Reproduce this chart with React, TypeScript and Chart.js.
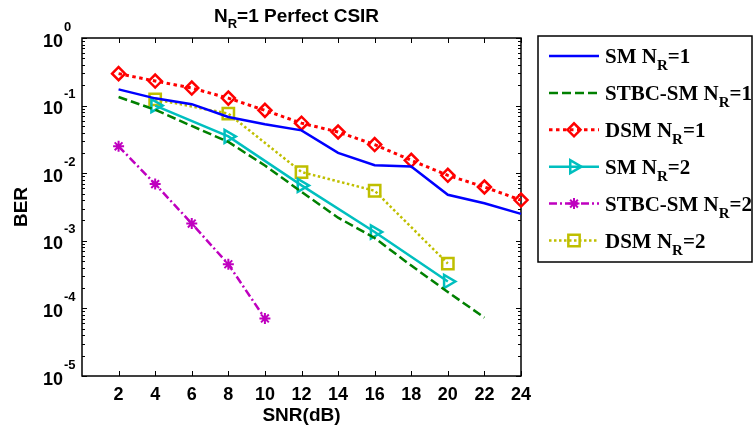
import React, { useEffect, useRef } from "react";
import { Chart, registerables } from "chart.js";
import { drawPoint } from "chart.js/helpers";

Chart.register(...registerables);

// ---------- data ----------
const chartTitle = "N_R=1 Perfect CSIR";
const xAxisTitle = "SNR(dB)";
const yAxisTitle = "BER";

const xTickValues = [2, 4, 6, 8, 10, 12, 14, 16, 18, 20, 22, 24];
const yTickExponents = [0, -1, -2, -3, -4, -5];

const snrFull = [2, 4, 6, 8, 10, 12, 14, 16, 18, 20, 22, 24];
const snrStbc1 = [2, 4, 6, 8, 10, 12, 14, 16, 18, 20, 22];
const snrSparse = [4, 8, 12, 16, 20];
const snrStbc2 = [2, 4, 6, 8, 10];

const smNr1 = [0.174, 0.128, 0.105, 0.068, 0.053, 0.043, 0.02, 0.0131, 0.0126, 0.0048, 0.0036, 0.0025];
const stbcSmNr1 = [0.134, 0.087, 0.05, 0.029, 0.013, 0.0053, 0.0022, 0.0011, 0.00043, 0.000175, 0.000073];
const dsmNr1 = [0.297, 0.231, 0.182, 0.129, 0.085, 0.055, 0.0407, 0.0265, 0.0155, 0.0093, 0.00625, 0.004];
const smNr2 = [0.1, 0.035, 0.0066, 0.00135, 0.00025];
const stbcSmNr2 = [0.025, 0.0069, 0.0018, 0.00045, 0.000071];
const dsmNr2 = [0.124, 0.076, 0.0104, 0.0055, 0.00046];

const seriesLabels = ["SM N_R=1", "STBC-SM N_R=1", "DSM N_R=1", "SM N_R=2", "STBC-SM N_R=2", "DSM N_R=2"];
const seriesColors = ["#0000FF", "#008000", "#FF0000", "#00BFBF", "#BF00BF", "#BFBF00"];

const SANS = "'Liberation Sans', Arial, sans-serif";
const SERIF = "'Liberation Serif', 'Times New Roman', serif";

function pts(xs: number[], ys: number[]) {
  return xs.map((x, i) => ({ x, y: ys[i] }));
}

// draws text with "_X" subscripts
function drawRich(
  ctx: CanvasRenderingContext2D,
  text: string,
  x: number,
  y: number,
  mainFont: string,
  subFont: string,
  subDy: number,
  measureOnly = false
): number {
  const parts: { t: string; sub: boolean }[] = [];
  let buf = "";
  for (let i = 0; i < text.length; i++) {
    if (text[i] === "_" && i + 1 < text.length) {
      if (buf) parts.push({ t: buf, sub: false });
      buf = "";
      parts.push({ t: text[i + 1], sub: true });
      i++;
    } else buf += text[i];
  }
  if (buf) parts.push({ t: buf, sub: false });
  let cx = x;
  ctx.textAlign = "left";
  ctx.textBaseline = "alphabetic";
  for (const p of parts) {
    ctx.font = p.sub ? subFont : mainFont;
    if (!measureOnly) ctx.fillText(p.t, cx, p.sub ? y + subDy : y);
    cx += ctx.measureText(p.t).width;
  }
  return cx - x;
}

const matlabPlugin = {
  id: "matlabAxes",
  beforeDatasetsDraw(chart: any) {
    const ctx: CanvasRenderingContext2D = chart.ctx;
    const { left, right, top, bottom } = chart.chartArea;
    const xs = chart.scales.x;
    const ys = chart.scales.y;
    ctx.save();
    ctx.strokeStyle = "#000";
    ctx.lineWidth = 1;
    ctx.beginPath();
    for (const v of xTickValues) {
      const px = Math.round(xs.getPixelForValue(v)) + 0.5;
      ctx.moveTo(px, bottom);
      ctx.lineTo(px, bottom - 5);
      ctx.moveTo(px, top);
      ctx.lineTo(px, top + 5);
    }
    for (const e of yTickExponents) {
      const base = Math.pow(10, e);
      const py = Math.round(ys.getPixelForValue(base)) + 0.5;
      ctx.moveTo(left, py);
      ctx.lineTo(left + 5, py);
      ctx.moveTo(right, py);
      ctx.lineTo(right - 5, py);
      if (e > -5) {
        for (let m = 2; m <= 9; m++) {
          const my = Math.round(ys.getPixelForValue(base * m * 0.1)) + 0.5;
          ctx.moveTo(left, my);
          ctx.lineTo(left + 3, my);
          ctx.moveTo(right, my);
          ctx.lineTo(right - 3, my);
        }
      }
    }
    ctx.stroke();
    ctx.lineWidth = 1.5;
    ctx.strokeRect(left, top, right - left, bottom - top);
    ctx.restore();
  },
  afterDraw(chart: any) {
    const ctx: CanvasRenderingContext2D = chart.ctx;
    const { left, right, top, bottom } = chart.chartArea;
    const xs = chart.scales.x;
    const ys = chart.scales.y;
    ctx.save();
    ctx.fillStyle = "#000";
    ctx.font = `bold 18px ${SANS}`;
    ctx.textAlign = "center";
    ctx.textBaseline = "alphabetic";
    for (const v of xTickValues) {
      ctx.fillText(String(v), xs.getPixelForValue(v), bottom + 24);
    }
    for (const e of yTickExponents) {
      const py = ys.getPixelForValue(Math.pow(10, e));
      ctx.font = `bold 18px ${SANS}`;
      ctx.textAlign = "right";
      ctx.fillText("10", left - 19, py + 8.5);
      ctx.font = `bold 13px ${SANS}`;
      ctx.textAlign = "left";
      ctx.fillText(e === 0 ? "0" : "-" + String(-e), left - 18, py - 7.5);
    }
    ctx.font = `bold 19px ${SANS}`;
    ctx.textAlign = "center";
    ctx.fillText(xAxisTitle, (left + right) / 2, bottom + 45);
    ctx.save();
    ctx.translate(27, (top + bottom) / 2);
    ctx.rotate(-Math.PI / 2);
    ctx.fillText(yAxisTitle, 0, 0);
    ctx.restore();
    const tf = `bold 19px ${SANS}`;
    const tsf = `bold 13px ${SANS}`;
    const tw = drawRich(ctx, chartTitle, 0, 0, tf, tsf, 6.6, true);
    drawRich(ctx, chartTitle, (left + right) / 2 - tw / 2 - 5, 21.7, tf, tsf, 6.6);

    // legend
    const lx0 = 538, ly0 = 36, lx1 = 752, ly1 = 262;
    ctx.fillStyle = "#fff";
    ctx.fillRect(lx0, ly0, lx1 - lx0, ly1 - ly0);
    ctx.strokeStyle = "#000";
    ctx.lineWidth = 1.5;
    ctx.strokeRect(lx0, ly0, lx1 - lx0, ly1 - ly0);
    chart.data.datasets.forEach((ds: any, i: number) => {
      const cy = 56 + i * 36.9;
      ctx.save();
      ctx.strokeStyle = ds.borderColor;
      ctx.lineWidth = ds.borderWidth;
      ctx.setLineDash(ds.borderDash || []);
      ctx.beginPath();
      ctx.moveTo(549, cy);
      ctx.lineTo(599, cy);
      ctx.stroke();
      ctx.setLineDash([]);
      if (ds.pointRadius > 0) {
        ctx.fillStyle = "rgba(0,0,0,0)";
        ctx.strokeStyle = ds.pointBorderColor;
        ctx.lineWidth = ds.pointBorderWidth;
        drawPoint(ctx, {
          pointStyle: ds.pointStyle,
          radius: ds.pointRadius,
          rotation: ds.pointRotation || 0,
          borderWidth: ds.pointBorderWidth,
        } as any, 574, cy);
      }
      ctx.restore();
      ctx.fillStyle = "#000";
      drawRich(ctx, ds.label, 605, cy + 7.3, `bold 21px ${SERIF}`, `bold 15px ${SERIF}`, 6.7);
    });
    ctx.restore();
  },
};

function makeDataset(i: number, data: any[], dash: number[], width: number, style: any, radius: number, rot = 0, pbw = 2.5) {
  return {
    label: seriesLabels[i],
    data,
    borderColor: seriesColors[i],
    backgroundColor: seriesColors[i],
    borderWidth: width,
    borderDash: dash,
    pointStyle: style,
    pointRadius: radius,
    pointRotation: rot,
    pointBorderColor: seriesColors[i],
    pointBackgroundColor: "rgba(0,0,0,0)",
    pointBorderWidth: pbw,
    pointHoverRadius: radius,
    tension: 0,
    fill: false,
    clip: false as any,
  };
}

export default function App() {
  const ref = useRef<HTMLCanvasElement | null>(null);
  useEffect(() => {
    document.body.style.margin = "0";
    if (!ref.current) return;
    const chart = new Chart(ref.current, {
      type: "line",
      data: {
        datasets: [
          makeDataset(0, pts(snrFull, smNr1), [], 2.5, false, 0),
          makeDataset(1, pts(snrStbc1, stbcSmNr1), [9, 4], 2.5, false, 0),
          makeDataset(2, pts(snrFull, dsmNr1), [3.5, 3.5], 3, "rectRot", 6.5, 0, 2.5),
          makeDataset(3, pts(snrSparse, smNr2), [], 2.5, "triangle", 7.5, 90, 2.5),
          makeDataset(4, pts(snrStbc2, stbcSmNr2), [8, 3, 2, 3], 2.5, "star", 5.5, 0, 2),
          makeDataset(5, pts(snrSparse, dsmNr2), [2.5, 2.5], 2.5, "rect", 8, 0, 2.5),
        ] as any,
      },
      options: {
        responsive: false,
        animation: false,
        devicePixelRatio: 1,
        layout: { padding: { left: 82, right: 233, top: 38, bottom: 54 } },
        scales: {
          x: { type: "linear", min: 0, max: 24, display: false },
          y: { type: "logarithmic", min: 1e-5, max: 1, display: false },
        },
        plugins: {
          legend: { display: false },
          title: { display: false },
          tooltip: { enabled: false },
        },
      },
      plugins: [matlabPlugin],
    });
    return () => chart.destroy();
  }, []);
  return (
    <div style={{ position: "fixed", left: 0, top: 0, width: 754, height: 430, background: "#fff" }}>
      <canvas ref={ref} width={754} height={430} style={{ width: 754, height: 430, display: "block" }} />
    </div>
  );
}
